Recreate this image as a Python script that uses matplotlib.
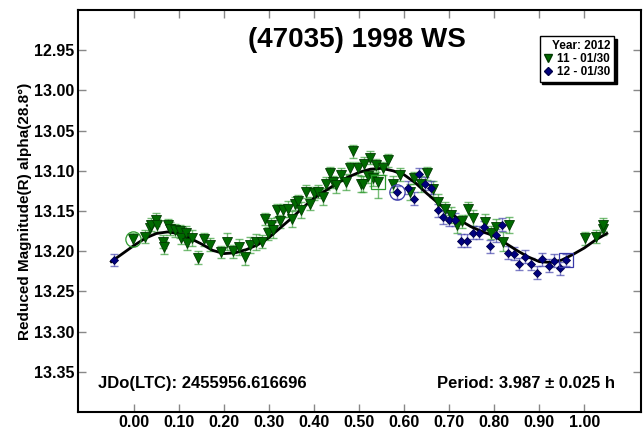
import numpy as np
import matplotlib
matplotlib.use("Agg")
import matplotlib.pyplot as plt
from matplotlib.lines import Line2D

plt.rcParams['font.family'] = ['Liberation Sans', 'DejaVu Sans']
plt.rcParams['font.weight'] = 'bold'

# session 11 (green triangles): phase, reduced magnitude, error
g_phase = [-0.001, 0.024, 0.035, 0.039, 0.050, 0.052, 0.064, 0.066, 0.076, 0.080,
           0.091, 0.102, 0.104, 0.115, 0.117, 0.128, 0.142, 0.155, 0.169, 0.194,
           0.207, 0.220, 0.234, 0.246, 0.257, 0.272, 0.285, 0.292, 0.298, 0.305,
           0.310, 0.318, 0.324, 0.331, 0.342, 0.350, 0.357, 0.365, 0.372, 0.383,
           0.390, 0.401, 0.409, 0.420, 0.427, 0.435, 0.442, 0.449, 0.460, 0.472,
           0.479, 0.487, 0.498, 0.505, 0.509, 0.512, 0.519, 0.525, 0.532, 0.538,
           0.542, 0.553, 0.564, 0.576, 0.590, 0.612, 0.623, 0.638, 0.650, 0.664,
           0.676, 0.690, 0.704, 0.717, 0.729, 0.741, 0.754, 0.780, 0.793, 0.804,
           0.819, 0.832, 1.002, 1.027, 1.041, 1.041]
g_mag = [13.185, 13.182, 13.171, 13.167, 13.161, 13.168, 13.188, 13.195, 13.168, 13.172,
         13.174, 13.175, 13.183, 13.177, 13.190, 13.184, 13.208, 13.185, 13.192, 13.201,
         13.188, 13.200, 13.195, 13.207, 13.192, 13.189, 13.188, 13.160, 13.178, 13.167,
         13.174, 13.149, 13.163, 13.149, 13.147, 13.160, 13.141, 13.138, 13.149, 13.126,
         13.141, 13.128, 13.126, 13.132, 13.116, 13.103, 13.114, 13.118, 13.105, 13.114,
         13.097, 13.076, 13.097, 13.117, 13.116, 13.091, 13.107, 13.084, 13.109, 13.093,
         13.114, 13.097, 13.087, 13.116, 13.105, 13.126, 13.109, 13.116, 13.103, 13.123,
         13.139, 13.147, 13.155, 13.168, 13.163, 13.147, 13.159, 13.164, 13.177, 13.170,
         13.188, 13.167, 13.184, 13.182, 13.172, 13.167]
g_err = [0.008, 0.008, 0.008, 0.008, 0.008, 0.008, 0.008, 0.008, 0.008, 0.008,
         0.008, 0.008, 0.008, 0.008, 0.008, 0.010, 0.008, 0.008, 0.008, 0.008,
         0.010, 0.008, 0.010, 0.010, 0.010, 0.010, 0.008, 0.008, 0.008, 0.008,
         0.010, 0.008, 0.008, 0.008, 0.010, 0.010, 0.008, 0.008, 0.010, 0.008,
         0.008, 0.008, 0.008, 0.010, 0.008, 0.008, 0.008, 0.010, 0.008, 0.010,
         0.008, 0.008, 0.008, 0.010, 0.010, 0.008, 0.008, 0.008, 0.010, 0.008,
         0.020, 0.008, 0.008, 0.010, 0.008, 0.010, 0.008, 0.010, 0.008, 0.010,
         0.010, 0.008, 0.010, 0.010, 0.008, 0.008, 0.010, 0.010, 0.008, 0.010,
         0.012, 0.010, 0.008, 0.008, 0.008, 0.008]

# session 12 (blue diamonds)
b_phase = [-0.044, 0.584, 0.608, 0.621, 0.634, 0.647, 0.660, 0.675, 0.686, 0.699,
           0.712, 0.727, 0.740, 0.752, 0.766, 0.778, 0.791, 0.804, 0.817, 0.830,
           0.843, 0.856, 0.869, 0.882, 0.895, 0.907, 0.921, 0.933, 0.946, 0.959]
b_mag = [13.211, 13.127, 13.121, 13.135, 13.104, 13.116, 13.121, 13.149, 13.158, 13.161,
         13.161, 13.187, 13.187, 13.177, 13.177, 13.170, 13.194, 13.180, 13.167, 13.202,
         13.203, 13.216, 13.207, 13.216, 13.227, 13.210, 13.218, 13.212, 13.221, 13.211]
b_err = [0.008] * len(b_phase)

# fitted lightcurve
fit_phase = [-0.05, -0.025, 0.00, 0.025, 0.05, 0.075, 0.10, 0.125, 0.15, 0.175,
             0.20, 0.225, 0.25, 0.275, 0.30, 0.325, 0.35, 0.375, 0.40, 0.425,
             0.45, 0.475, 0.50, 0.525, 0.55, 0.575, 0.60, 0.625, 0.65, 0.675,
             0.70, 0.725, 0.75, 0.775, 0.80, 0.825, 0.85, 0.875, 0.90, 0.925,
             0.95, 0.975, 1.00, 1.025, 1.05]
fit_mag = [13.213, 13.203, 13.193, 13.184, 13.178, 13.176, 13.178, 13.184, 13.191, 13.199,
           13.203, 13.202, 13.198, 13.192, 13.183, 13.171, 13.159, 13.146, 13.134, 13.125,
           13.116, 13.108, 13.102, 13.098, 13.097, 13.100, 13.105, 13.115, 13.128, 13.140,
           13.151, 13.162, 13.170, 13.176, 13.181, 13.190, 13.199, 13.207, 13.213, 13.214,
           13.211, 13.204, 13.196, 13.186, 13.178]

x_ticks = [0.0, 0.1, 0.2, 0.3, 0.4, 0.5, 0.6, 0.7, 0.8, 0.9, 1.0]
y_ticks = [12.95, 13.00, 13.05, 13.10, 13.15, 13.20, 13.25, 13.30, 13.35]

green = '#006a00'
navy = '#00007f'

fig = plt.figure(figsize=(6.43, 4.33), dpi=100)
ax = fig.add_axes([0.122, 0.0485, 0.875, 0.9285])

ax.errorbar(g_phase, g_mag, yerr=g_err, fmt='none', ecolor='#2e9a2e', alpha=0.65,
            elinewidth=1, capsize=3, capthick=1, zorder=2)
ax.errorbar(b_phase, b_mag, yerr=b_err, fmt='none', ecolor='#3a3aa8', alpha=0.65,
            elinewidth=1, capsize=3, capthick=1, zorder=2)

ax.plot(fit_phase, fit_mag, color='black', lw=2, zorder=3)

ax.plot(g_phase, g_mag, 'v', ms=7, mfc=green, mec='#003a00', mew=0.6, ls='none', zorder=4)
ax.plot(b_phase, b_mag, 'D', ms=4.5, mfc=navy, mec='#00004a', mew=0.6, ls='none', zorder=4)

# highlighted points (first/last points of each session)
ax.plot(g_phase[0], g_mag[0], 'o', ms=11, mfc='none', mec='#2e9a2e', mew=0.9, zorder=4)
ax.plot(g_phase[60], g_mag[60], 's', ms=10, mfc='none', mec='#2e9a2e', mew=0.9, zorder=4)
ax.plot(b_phase[1], b_mag[1], 'o', ms=11, mfc='none', mec='#3a3aa8', mew=0.9, zorder=4)
ax.plot(b_phase[-1], b_mag[-1], 's', ms=10, mfc='none', mec='#3a3aa8', mew=0.9, zorder=4)

ax.set_xlim(-0.123, 1.126)
ax.set_ylim(13.40, 12.90)
ax.set_xticks(x_ticks)
ax.set_xticklabels(['%.2f' % v for v in x_ticks])
ax.set_yticks(y_ticks)
ax.set_yticklabels(['%.2f' % v for v in y_ticks])
ax.tick_params(direction='in', length=6, width=1, color='#888888',
               top=True, right=True, labelsize=11.5)
ax.tick_params(axis='x', pad=2)
ax.tick_params(axis='y', pad=3)
for s in ax.spines.values():
    s.set_linewidth(1.5)
    s.set_color('black')

ax.set_ylabel('Reduced Magnitude(R) alpha(28.8°)', fontsize=11, fontweight='bold', labelpad=1)

ax.text(0.495, 0.925, '(47035) 1998 WS', transform=ax.transAxes, ha='center', va='center',
        fontsize=20, fontweight='bold')
ax.text(0.035, 0.072, 'JDo(LTC): 2455956.616696', transform=ax.transAxes, ha='left',
        va='center', fontsize=12, fontweight='bold')
ax.text(0.954, 0.072, 'Period: 3.987 ± 0.025 h', transform=ax.transAxes, ha='right',
        va='center', fontsize=12, fontweight='bold')

handles = [Line2D([], [], marker='v', ls='none', ms=6, mfc=green, mec='#003a00'),
           Line2D([], [], marker='D', ls='none', ms=4, mfc=navy, mec='#00004a')]
leg = ax.legend(handles, ['11 - 01/30', '12 - 01/30'], title='Year: 2012',
                loc='upper right', bbox_to_anchor=(0.952, 0.935), borderaxespad=0,
                prop={'size': 8.5, 'weight': 'bold'}, title_fontproperties={'size': 8.5, 'weight': 'bold'},
                fancybox=False, framealpha=1, edgecolor='black',
                shadow={'color': 'black', 'alpha': 1.0},
                handlelength=0.8, handletextpad=0.4, labelspacing=0.1,
                borderpad=0.3, alignment='right')
leg.get_frame().set_linewidth(1)

fig.savefig('out.png', dpi=100)
